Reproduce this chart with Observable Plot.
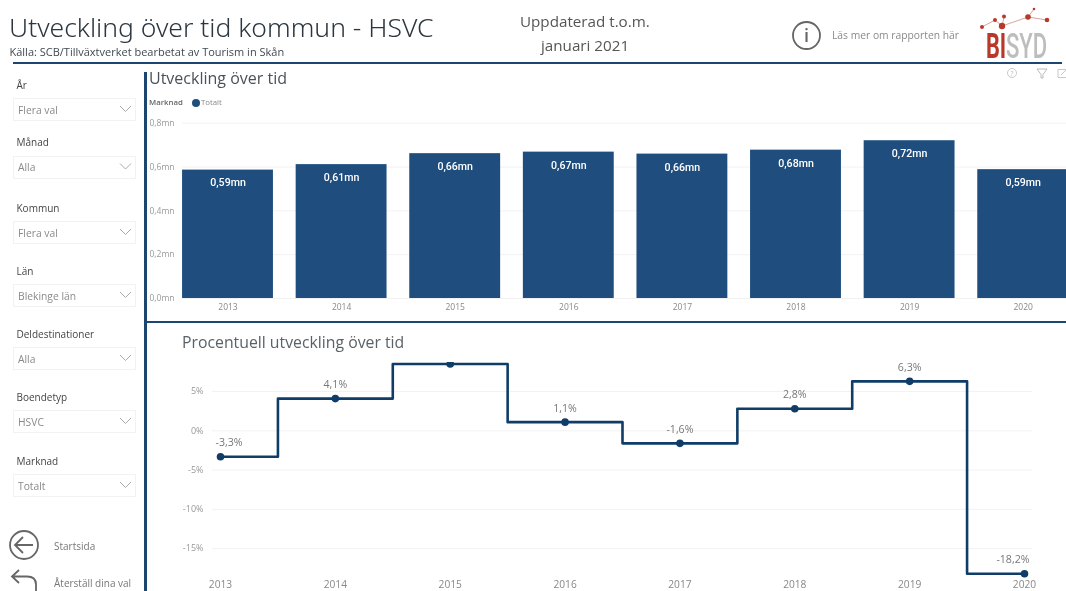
<!DOCTYPE html>
<html lang="sv">
<head>
<meta charset="utf-8">
<title>Utveckling över tid kommun - HSVC</title>
<script src="https://cdn.jsdelivr.net/npm/d3@7"></script>
<script src="https://cdn.jsdelivr.net/npm/@observablehq/plot@0.6"></script>
<style>
  html, body { margin: 0; padding: 0; background: #fff; }
  #page { position: relative; width: 1066px; height: 591px; overflow: hidden; background: #fff;
          font-family: "Open Sans", "Noto Sans", sans-serif; filter: blur(0.3px); }
  .t { position: absolute; white-space: nowrap; line-height: 1; transform: translateY(-50%); }
  .rule { position: absolute; background: #1c4670; }
  .box { position: absolute; left: 13px; width: 121px; height: 21px; border: 1px solid #f2f2f2; box-sizing: content-box; }
  #page svg.chart, #page svg.deco { position: absolute; }
</style>
</head>
<body>
<div id="page"></div>
<script>
// ---- data -------------------------------------------------------------
const years = ["2013", "2014", "2015", "2016", "2017", "2018", "2019", "2020"];
const nights = [0.586, 0.611, 0.661, 0.668, 0.659, 0.677, 0.72, 0.588];
const change = [-3.3, 4.1, 8.5, 1.1, -1.6, 2.8, 6.3, -18.2];
const hiddenChangeLabels = ["2015"];
const nightTicks = [0, 0.2, 0.4, 0.6, 0.8];
const changeTicks = [5, 0, -5, -10, -15];
const filterNames = ["År", "Månad", "Kommun", "Län", "Deldestinationer", "Boendetyp", "Marknad"];
const filterValues = ["Flera val", "Alla", "Flera val", "Blekinge län", "Alla", "HSVC", "Totalt"];

// ---- helpers ----------------------------------------------------------
const page = document.getElementById("page");
const comma = (s) => s.replace(".", ",");
const NAVY = "#1f4e7e", LINE = "#0f3d68";

function text(str, x, y, size, color, extra = {}) {
  const el = document.createElement("div");
  el.className = "t";
  el.textContent = str;
  Object.assign(el.style, { left: x + "px", top: y + "px", fontSize: size + "px", color }, extra);
  page.appendChild(el);
  return el;
}
function rule(x, y, w, h) {
  const el = document.createElement("div");
  el.className = "rule";
  Object.assign(el.style, { left: x + "px", top: y + "px", width: w + "px", height: h + "px" });
  page.appendChild(el);
}
function deco(inner) {
  const ns = "http://www.w3.org/2000/svg";
  const s = document.createElementNS(ns, "svg");
  s.setAttribute("class", "deco");
  s.setAttribute("width", 1066);
  s.setAttribute("height", 591);
  s.style.left = "0"; s.style.top = "0";
  s.innerHTML = inner;
  page.appendChild(s);
}

// ---- header -----------------------------------------------------------
text("Utveckling över tid kommun - HSVC", 9, 27, 26.5, "#2b3740", { fontFamily: "'Noto Sans', sans-serif", fontWeight: 300 });
text("Källa: SCB/Tillväxtverket bearbetat av Tourism in Skån", 9.5, 51, 11, "#3f4a52");
text("Uppdaterad t.o.m.", 520, 22, 15.2, "#555");
text("januari 2021", 541, 45.5, 15.2, "#555");
text("Läs mer om rapporten här", 832, 35, 10.3, "#8a8a8a");
rule(13, 61.5, 1049, 2);
rule(144, 72, 2.5, 519);
rule(145, 321, 921, 2.2);

text("Utveckling över tid", 149, 77.5, 16, "#4a5258");
text("Procentuell utveckling över tid", 182, 342.5, 15.8, "#5a6268");

// legend
text("Marknad", 149, 103, 7.8, "#666", { fontWeight: 600 });
text("Totalt", 201, 103, 7.8, "#888");

// ---- filters ----------------------------------------------------------
const filterLabelY = [85, 142, 208, 271, 334, 397, 461];
const filterBoxY = [98, 155.5, 221, 284, 347, 410, 474];
filterNames.forEach((name, i) => {
  text(name, 16.5, filterLabelY[i], 10, "#444");
  const b = document.createElement("div");
  b.className = "box";
  b.style.top = filterBoxY[i] + "px";
  page.appendChild(b);
  text(filterValues[i], 18, filterBoxY[i] + 11.5, 10.3, "#8a8a8a");
});
text("Startsida", 54, 546, 10, "#777");
text("Återställ dina val", 54, 583, 10, "#777");

// ---- icons & logo -----------------------------------------------------
const chevrons = filterBoxY.map(y =>
  `<path d="M120 ${y + 8} l5.5 5.5 l5.5 -5.5" fill="none" stroke="#aaa" stroke-width="1"/>`).join("");
deco(`
  ${chevrons}
  <circle cx="196" cy="103" r="4" fill="${NAVY}"/>
  <circle cx="806.5" cy="35.5" r="13.5" fill="none" stroke="#666" stroke-width="1.8"/>
  <text x="806.5" y="42" text-anchor="middle" font-family="Open Sans" font-weight="600" font-size="18" fill="#666">i</text>
  <circle cx="24" cy="545" r="14" fill="none" stroke="#666" stroke-width="1.8"/>
  <path d="M33 545 H15 M23 537 l-8 8 l8 8" fill="none" stroke="#666" stroke-width="1.8"/>
  <path d="M19 570 l-7 6.5 l7 6.5 M12 576.5 H27 q9 0 9 8 V591" fill="none" stroke="#666" stroke-width="1.8"/>
  <g stroke="#d8a59c" stroke-width="1" fill="none">
    <path d="M982 27 L995 20 L1002 26 L1004 17 M1002 26 L1028 17 L1047 20 M1028 17 L1034 9"/>
  </g>
  <g fill="#b8392a">
    <circle cx="982" cy="27" r="2"/><circle cx="995" cy="20" r="2"/><circle cx="1004" cy="16.5" r="2"/>
    <circle cx="1002" cy="26" r="3.2"/><circle cx="1028" cy="17" r="2.8"/><circle cx="1047" cy="20" r="2.3"/>
    <circle cx="1034" cy="9" r="1.3"/>
  </g>
  <text transform="translate(986,58) scale(0.62,1)" font-family="Roboto" font-weight="700" font-size="35" fill="#b8392a">BI</text>
  <text transform="translate(1006,58) scale(0.63,1)" font-family="Roboto" font-weight="500" font-size="35" fill="#bdbdbd">SYD</text>
  <circle cx="1012" cy="73" r="4.5" fill="none" stroke="#bbb" stroke-width="0.8"/>
  <text x="1012" y="75.5" text-anchor="middle" font-family="Open Sans" font-size="7" fill="#bbb">?</text>
  <path d="M1037 69 H1047 L1043 74.5 V78 L1041 78 V74.5 Z" fill="none" stroke="#aaa" stroke-width="0.8"/>
  <path d="M1058 69.5 H1066 M1058 69.5 V77.5 H1066 M1061 75 L1066 70" fill="none" stroke="#bbb" stroke-width="0.8"/>
`);

// ---- top chart: bars --------------------------------------------------
const barRows = years.map((year, i) => ({ year, value: nights[i] }));
const barChart = Plot.plot({
  width: 1066, height: 210,
  marginTop: 12.7, marginBottom: 22, marginLeft: 182, marginRight: 0,
  style: { background: "transparent", fontFamily: "'Open Sans', sans-serif", fontSize: "8.5px", color: "#999" },
  x: { type: "band", domain: years, range: [170.7, 1079.5], paddingInner: 0.2, paddingOuter: 0.1, round: false, label: null },
  y: { domain: [0, 0.8], label: null },
  marks: [
    Plot.ruleY(nightTicks, { stroke: "#f2f2f2", strokeWidth: 1 }),
    Plot.axisY({ ticks: nightTicks, tickSize: 0, tickPadding: 8, label: null, tickFormat: d => comma(d.toFixed(1)) + "mn", fill: "#999" }),
    Plot.axisX({ tickSize: 0, tickPadding: 5, label: null, fill: "#888" }),
    Plot.barY(barRows, { x: "year", y: "value", fill: NAVY }),
    Plot.text(barRows, { x: "year", y: "value", text: d => comma(d.value.toFixed(2)) + "mn", dy: 13,
      fill: "#fff", fontSize: 10.6, fontWeight: 500, fontFamily: "Roboto, sans-serif" })
  ]
});
barChart.classList.add("chart");
barChart.style.left = "0"; barChart.style.top = "110px";
page.appendChild(barChart);

// ---- bottom chart: step line ------------------------------------------
const lineRows = years.map((year, i) => ({ year, value: change[i] }));
const labelRows = lineRows.filter(d => !hiddenChangeLabels.includes(d.year));
const fmtPct = d => comma(d.value.toFixed(1)) + "%";
const pctStyle = { x: "year", y: "value", text: fmtPct, dy: -14, fill: "#777", fontSize: 10.6, fontFamily: "'Open Sans', sans-serif" };
const firstYear = years[0], lastYear = years[years.length - 1];
const lineChart = Plot.plot({
  width: 1066, height: 271,
  marginTop: 42, marginBottom: 12.3, marginLeft: 212, marginRight: 34,
  style: { background: "transparent", fontFamily: "'Open Sans', sans-serif", fontSize: "9px", color: "#999" },
  x: { type: "point", domain: years, range: [220, 1024], padding: 0, round: false, label: null },
  y: { domain: [-18.9, 8.7], label: null },
  marks: [
    Plot.ruleY(changeTicks, { stroke: "#f2f2f2", strokeWidth: 1 }),
    Plot.axisY({ ticks: changeTicks, tickSize: 0, tickPadding: 9, label: null, tickFormat: d => d + "%", fill: "#999" }),
    Plot.axisX({ tickSize: 0, tickPadding: 1.5, label: null, fill: "#888", fontSize: 10.2 }),
    Plot.line(lineRows, { x: "year", y: "value", curve: "step", stroke: LINE, strokeWidth: 2.6, clip: true }),
    Plot.dot(lineRows, { x: "year", y: "value", r: 3.8, fill: LINE, stroke: "none", clip: true }),
    Plot.text(labelRows.filter(d => d.year !== firstYear && d.year !== lastYear), pctStyle),
    Plot.text(labelRows.filter(d => d.year === firstYear), { ...pctStyle, textAnchor: "start", dx: -5 }),
    Plot.text(labelRows.filter(d => d.year === lastYear), { ...pctStyle, textAnchor: "end", dx: 5 })
  ]
});
lineChart.classList.add("chart");
lineChart.style.left = "0"; lineChart.style.top = "320px";
page.appendChild(lineChart);
</script>
</body>
</html>
